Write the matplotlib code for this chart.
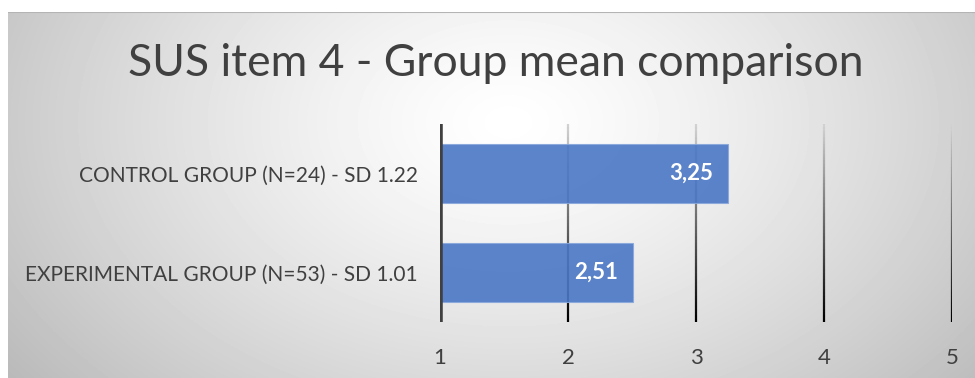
import numpy as np
import matplotlib
matplotlib.use('Agg')
import matplotlib.pyplot as plt
from matplotlib.collections import LineCollection

plt.rcParams['font.family'] = ['Lato', 'DejaVu Sans']

# data
groups = ['CONTROL GROUP (N=24) - SD 1.22', 'EXPERIMENTAL GROUP (N=53) - SD 1.01']
means = [3.25, 2.51]
value_labels = ['3,25', '2,51']
x_ticks = [1, 2, 3, 4, 5]

W, H = 975, 378
fig = plt.figure(figsize=(W / 100, H / 100), dpi=100)
fig.patch.set_facecolor('white')

# gray panel with a radial gradient, lighter in the middle
bg = fig.add_axes([8 / W, 0, 1 - 8 / W, (H - 12) / H])
bg.set_axis_off()
yy, xx = np.mgrid[0:366, 0:967]
r = np.sqrt(((xx - 500) / 620.0) ** 2 + ((yy - 110) / 420.0) ** 2)
shade = np.clip(1.0 - 0.27 * r ** 1.3, 0.72, 1.0)
bg.imshow(shade, cmap='gray', vmin=0, vmax=1, aspect='auto', interpolation='bilinear')
bg.axhline(-0.5, color='#b4b4b4', lw=1.5)

ax = fig.add_axes([440 / W, (H - 322) / H, 512 / W, 198 / H])
ax.patch.set_alpha(0)
for s in ax.spines.values():
    s.set_visible(False)

pos = np.arange(len(groups))
ax.set_ylim(len(groups) - 0.5, -0.5)
ax.set_xlim(1, 5)

# vertical gridlines fading from light at top to black at bottom
n = 60
ys = np.linspace(-0.5, len(groups) - 0.5, n + 1)
cols = plt.cm.gray(np.linspace(0.0, 0.82, n))
for xt in x_ticks[1:]:
    segs = [[(xt, ys[i]), (xt, ys[i + 1])] for i in range(n)]
    lc = LineCollection(segs, colors=cols[::-1], linewidths=1.6, zorder=1)
    ax.add_collection(lc)

bars = ax.barh(pos, [m - 1 for m in means], left=1, height=0.6,
               color='#4a77c6', alpha=0.9, edgecolor='#8aa8dc', linewidth=0.8, zorder=2)

for b, m, lab in zip(bars, means, value_labels):
    ax.text(m - 0.12, b.get_y() + b.get_height() / 2, lab, ha='right', va='center',
            color='white', fontsize=16, fontweight='bold', zorder=3)

ax.axvline(1, color='#404040', lw=4, zorder=4)

ax.set_yticks(pos)
ax.set_yticklabels(groups, fontsize=15, color='#404040')
ax.set_xticks(x_ticks)
ax.set_xticklabels([str(t) for t in x_ticks], fontsize=16, color='#404040')
ax.tick_params(axis='both', length=0)
ax.tick_params(axis='y', pad=16)
ax.tick_params(axis='x', pad=19)

fig.text(496 / W, 1 - 64 / H, 'SUS item 4 - Group mean comparison', ha='center', va='center',
         fontsize=32, color='#404040')

fig.savefig('out.png', dpi=100)
